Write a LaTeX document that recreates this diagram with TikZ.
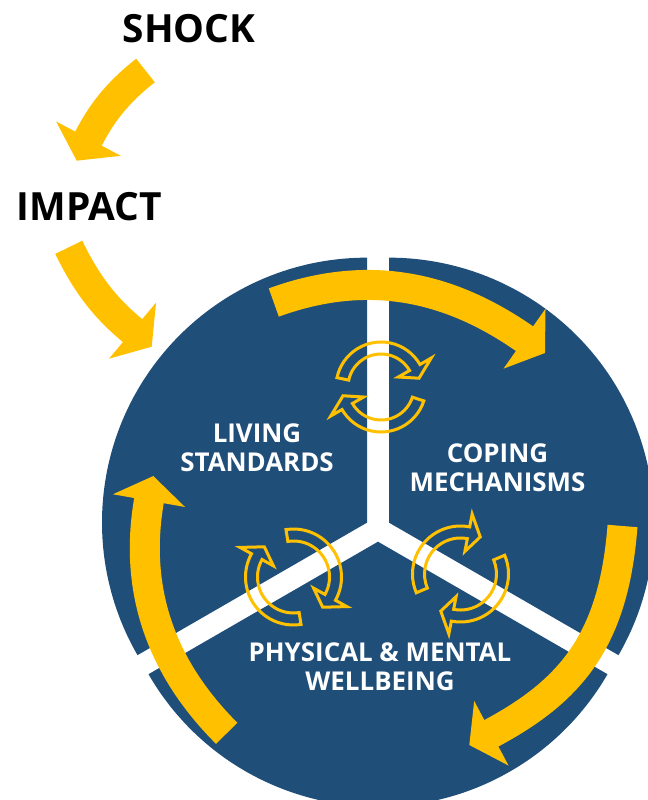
\documentclass[tikz,border=0pt]{standalone}
\usepackage{fontspec}
\setmainfont{Open Sans}
\usetikzlibrary{arrows.meta,calc}
\definecolor{PieBlue}{RGB}{31,78,121}
\definecolor{ArrYellow}{RGB}{255,192,0}
\tikzset{
  headline/.style={font=\fontsize{39}{45}\selectfont\bfseries,text=black,inner sep=0pt},
  lab/.style={font=\fontsize{26}{29}\selectfont\bfseries,text=white,align=center,inner sep=0pt},
  bigarr/.style={draw=ArrYellow,line width=30bp,-{Triangle[length=25bp,width=72bp]}},
  ringarr/.style={draw=ArrYellow,line width=3bp},
  pics/cycarrow/.style n args={4}{code={
    \draw[ringarr] (#2:{#1+6}) arc[start angle=#2,end angle=#3,radius=#1+6]
      -- (#3:{#1+19}) -- (#4:#1) -- (#3:{#1-19}) -- (#3:{#1-6})
      arc[start angle=#3,end angle=#2,radius=#1-6] -- cycle;
  }},
}
\begin{document}
\begin{tikzpicture}[x=1bp,y=1bp]
  \useasboundingbox (0,0) rectangle (648,-800);
  \clip (0,0) rectangle (648,-800);
  % exploded pie
  \coordinate (O) at (378,-529);
  \foreach \a in {90,-30,210}
    \fill[PieBlue] ($(O)+(\a+60:12.7)$) -- ++(\a:265)
      arc[start angle=\a,end angle=\a+120,radius=265] -- cycle;
  % titles
  \node[headline] (shock) at (189,-29) {SHOCK};
  \node[headline] (impact) at (89.5,-207) {IMPACT};
  \node[lab] (living) at (257,-447.5) {LIVING\\STANDARDS};
  \node[lab] (coping) at (497.5,-468) {COPING\\MECHANISMS};
  \node[lab] (wellbeing) at (380,-666.5) {PHYSICAL \& MENTAL\\WELLBEING};
  % big arrows
  \coordinate (shockout) at (145.5,-70.5);
  \coordinate (impactin) at (76.7,-160.7);
  \coordinate (impactout) at (68.8,-247.3);
  \coordinate (pieentry) at (151.7,-346.7);
  \coordinate (topstart) at (273.8,-302.5);
  \coordinate (topend) at (545,-353);
  \coordinate (rightstart) at (622.5,-526);
  \coordinate (rightend) at (469.3,-745);
  \coordinate (leftstart) at (226.7,-733.3);
  \coordinate (leftend) at (153.3,-476);
  \draw[bigarr] (shockout) to[out=218,in=62] (impactin);
  \draw[bigarr] (impactout) to[out=295.6,in=140] (pieentry);
  \draw[bigarr] (topstart) to[out=20,in=145] (topend);
  \draw[bigarr] (rightstart) to[out=265.6,in=28,looseness=1.1] (rightend);
  \draw[bigarr] (leftstart) to[out=135,in=260] (leftend);
  % small cycle arrows
  \pic at (381,-387) {cycarrow={39}{168}{30}{13}};
  \pic at (381,-387) {cycarrow={39}{-18}{-150}{-167}};
  \pic at (293.5,-577) {cycarrow={42}{279}{151}{134}};
  \pic at (293.5,-577) {cycarrow={42}{99}{-29}{-46}};
  \pic at (460.5,-574) {cycarrow={42}{203}{79}{62}};
  \pic at (460.5,-574) {cycarrow={42}{23}{-101}{-118}};
\end{tikzpicture}
\end{document}
